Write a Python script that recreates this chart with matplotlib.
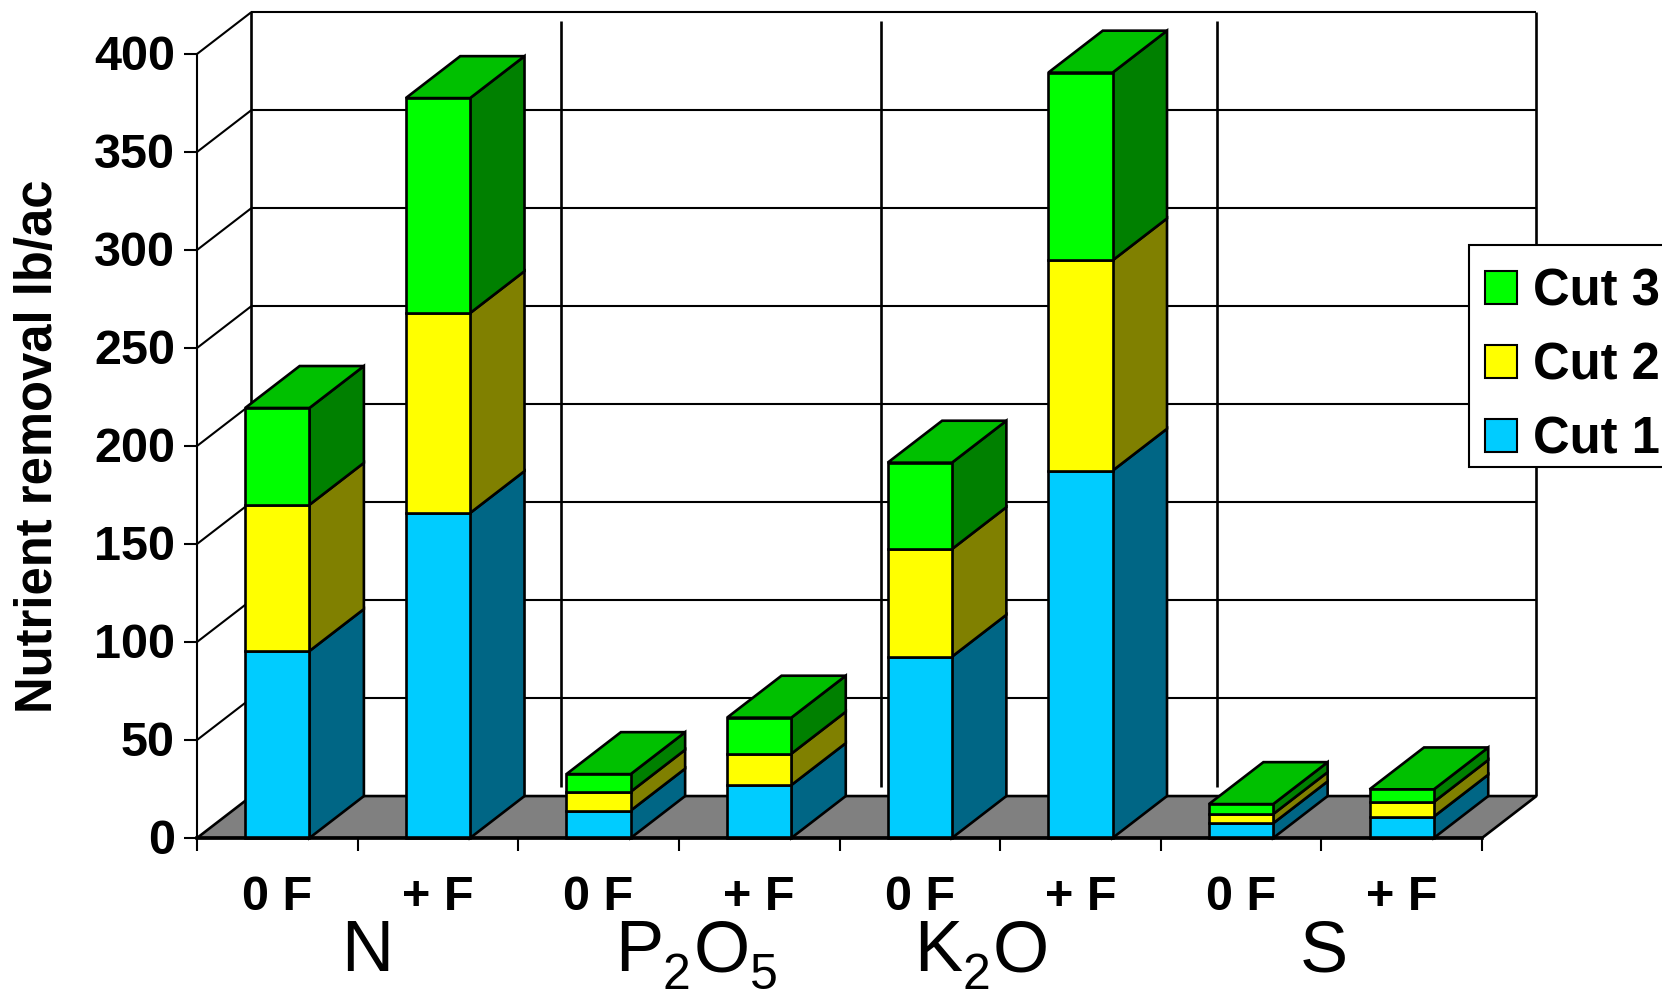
import numpy as np
import matplotlib
matplotlib.use("Agg")
import matplotlib.pyplot as plt
from matplotlib.patches import Polygon, Patch, Rectangle
from matplotlib.transforms import ScaledTranslation

plt.rcParams["font.family"] = ["Liberation Sans", "DejaVu Sans"]

# --- data ---
treatments = ["0 F", "+ F", "0 F", "+ F", "0 F", "+ F", "0 F", "+ F"]
# nutrient names, as (text, is_subscript) pieces
nutrients = [
    [("N", False)],
    [("P", False), ("2", True), ("O", False), ("5", True)],
    [("K", False), ("2", True), ("O", False)],
    [("S", False)],
]
nutrient_x = [0.895, 2.601, 4.464, 6.862]
divider_x = [2.267, 4.259, 6.351]
cut_1 = [95.4, 165.8, 14.0, 27.0, 92.5, 187.4, 7.5, 10.9]
cut_2 = [74.6, 102.0, 9.6, 16.0, 54.9, 107.3, 4.7, 7.5]
cut_3 = [49.4, 109.7, 9.0, 18.4, 44.1, 95.8, 5.1, 6.4]
y_ticks = [0, 50, 100, 150, 200, 250, 300, 350, 400]

FRONT = ["#00CCFF", "#FFFF00", "#00FF00"]
SIDE = ["#006685", "#808000", "#008000"]
TOP = "#00C000"
FLOOR = "#808080"
LABELS = ["Cut 1", "Cut 2", "Cut 3"]

# depth of the fake 3D box, in data units
DX = 0.339
DY = 21.4
BAR_W = 0.40
LW = 1.5
BAR_LW = 1.9
FS = 35

W, H = 1662, 992
fig = plt.figure(figsize=(W / 100, H / 100), dpi=100)
ax = fig.add_axes([197 / W, 1 - 838 / H, (1482 - 197) / W, (838 - 54) / H])
ax.set_xlim(0, 8)
ax.set_ylim(0, 400)
ax.patch.set_visible(False)


def poly(points, face, z, lw=BAR_LW):
    ax.add_patch(Polygon(points, closed=True, facecolor=face, edgecolor="black",
                         linewidth=lw, joinstyle="miter", clip_on=False, zorder=z))


def line(xs, ys, z=1, lw=LW):
    ax.plot(xs, ys, color="black", linewidth=lw, clip_on=False, zorder=z,
            solid_capstyle="butt")


# back wall, left wall lines, gridlines
for t in y_ticks[1:]:
    line([DX, 8 + DX], [t + DY, t + DY])
    line([0, DX], [t, t + DY])
line([DX, DX], [DY, 400 + DY], lw=BAR_LW)
line([8 + DX, 8 + DX], [DY, 400 + DY], lw=BAR_LW)

# floor
poly([(0, 0), (8, 0), (8 + DX, DY), (DX, DY)], FLOOR, 3)

# dividers between the nutrient groups
for x in divider_x:
    line([x, x], [26, 417], z=3, lw=BAR_LW)

# stacked boxes
stack = np.array([cut_1, cut_2, cut_3])
for i in range(8):
    x0 = i + 0.5 - BAR_W / 2
    x1 = x0 + BAR_W
    bottom = 0.0
    for c in range(3):
        top = bottom + stack[c, i]
        poly([(x1, bottom), (x1 + DX, bottom + DY), (x1 + DX, top + DY), (x1, top)], SIDE[c], 4)
        ax.bar(i + 0.5, stack[c, i], BAR_W, bottom=bottom, color=FRONT[c],
               edgecolor="black", linewidth=BAR_LW, clip_on=False, zorder=5)
        bottom = top
    poly([(x0, bottom), (x1, bottom), (x1 + DX, bottom + DY), (x0 + DX, bottom + DY)], TOP, 4)

# axes
for s in ["top", "right"]:
    ax.spines[s].set_visible(False)
ax.spines["left"].set_linewidth(LW)
ax.spines["bottom"].set_linewidth(2.6)
ax.spines["bottom"].set_zorder(6)
ax.set_yticks(y_ticks)
ax.set_yticklabels([str(t) for t in y_ticks], fontsize=FS, fontweight="bold")
ax.set_xticks(range(9))
ax.set_xticklabels([])
ax.tick_params(axis="both", length=9.4, width=LW, color="black")
ax.tick_params(axis="y", pad=6.5)
up = ScaledTranslation(0, 2 / 100, fig.dpi_scale_trans)
for lab in ax.get_yticklabels():
    lab.set_transform(lab.get_transform() + up)

for i, name in enumerate(treatments):
    ax.text(i + 0.5, -30.2, name, fontsize=FS, fontweight="bold", ha="center", va="center")

# group names, piece by piece so the subscripts sit as low as in the original
renderer = fig.canvas.get_renderer()
px_per_x = (1482 - 197) / 8
for x, pieces in zip(nutrient_x, nutrients):
    for text, is_sub in pieces:
        t = ax.text(x, -77.2 if is_sub else -68, text, fontsize=36 if is_sub else 52,
                    ha="left", va="baseline")
        x += (t.get_window_extent(renderer).width + (3 if is_sub else 0)) / px_per_x

ax.text(-0.984, 200, "Nutrient removal lb/ac", rotation=90, fontsize=36.5,
        fontweight="bold", ha="center", va="center")

# legend frame runs off the right edge of the picture, like in the original
ax.add_patch(Rectangle((1469 / W, 1 - 467 / H), 260 / W, 222 / H, transform=fig.transFigure,
                       facecolor="white", edgecolor="black", linewidth=LW, clip_on=False,
                       zorder=9))
handles = [Patch(facecolor=FRONT[c], edgecolor="black", linewidth=LW, label=LABELS[c])
           for c in [2, 1, 0]]
leg = ax.legend(handles=handles, loc="upper left", bbox_to_anchor=(1485 / W, 1 - 267.5 / H),
                bbox_transform=fig.transFigure, fontsize=36.5, frameon=False,
                borderaxespad=0, borderpad=0, handlelength=0.63,
                handleheight=0.63, handletextpad=0.31, labelspacing=0.49)
leg.set_zorder(10)
for t in leg.get_texts():
    t.set_fontweight("bold")

fig.savefig("out.png", dpi=100)
